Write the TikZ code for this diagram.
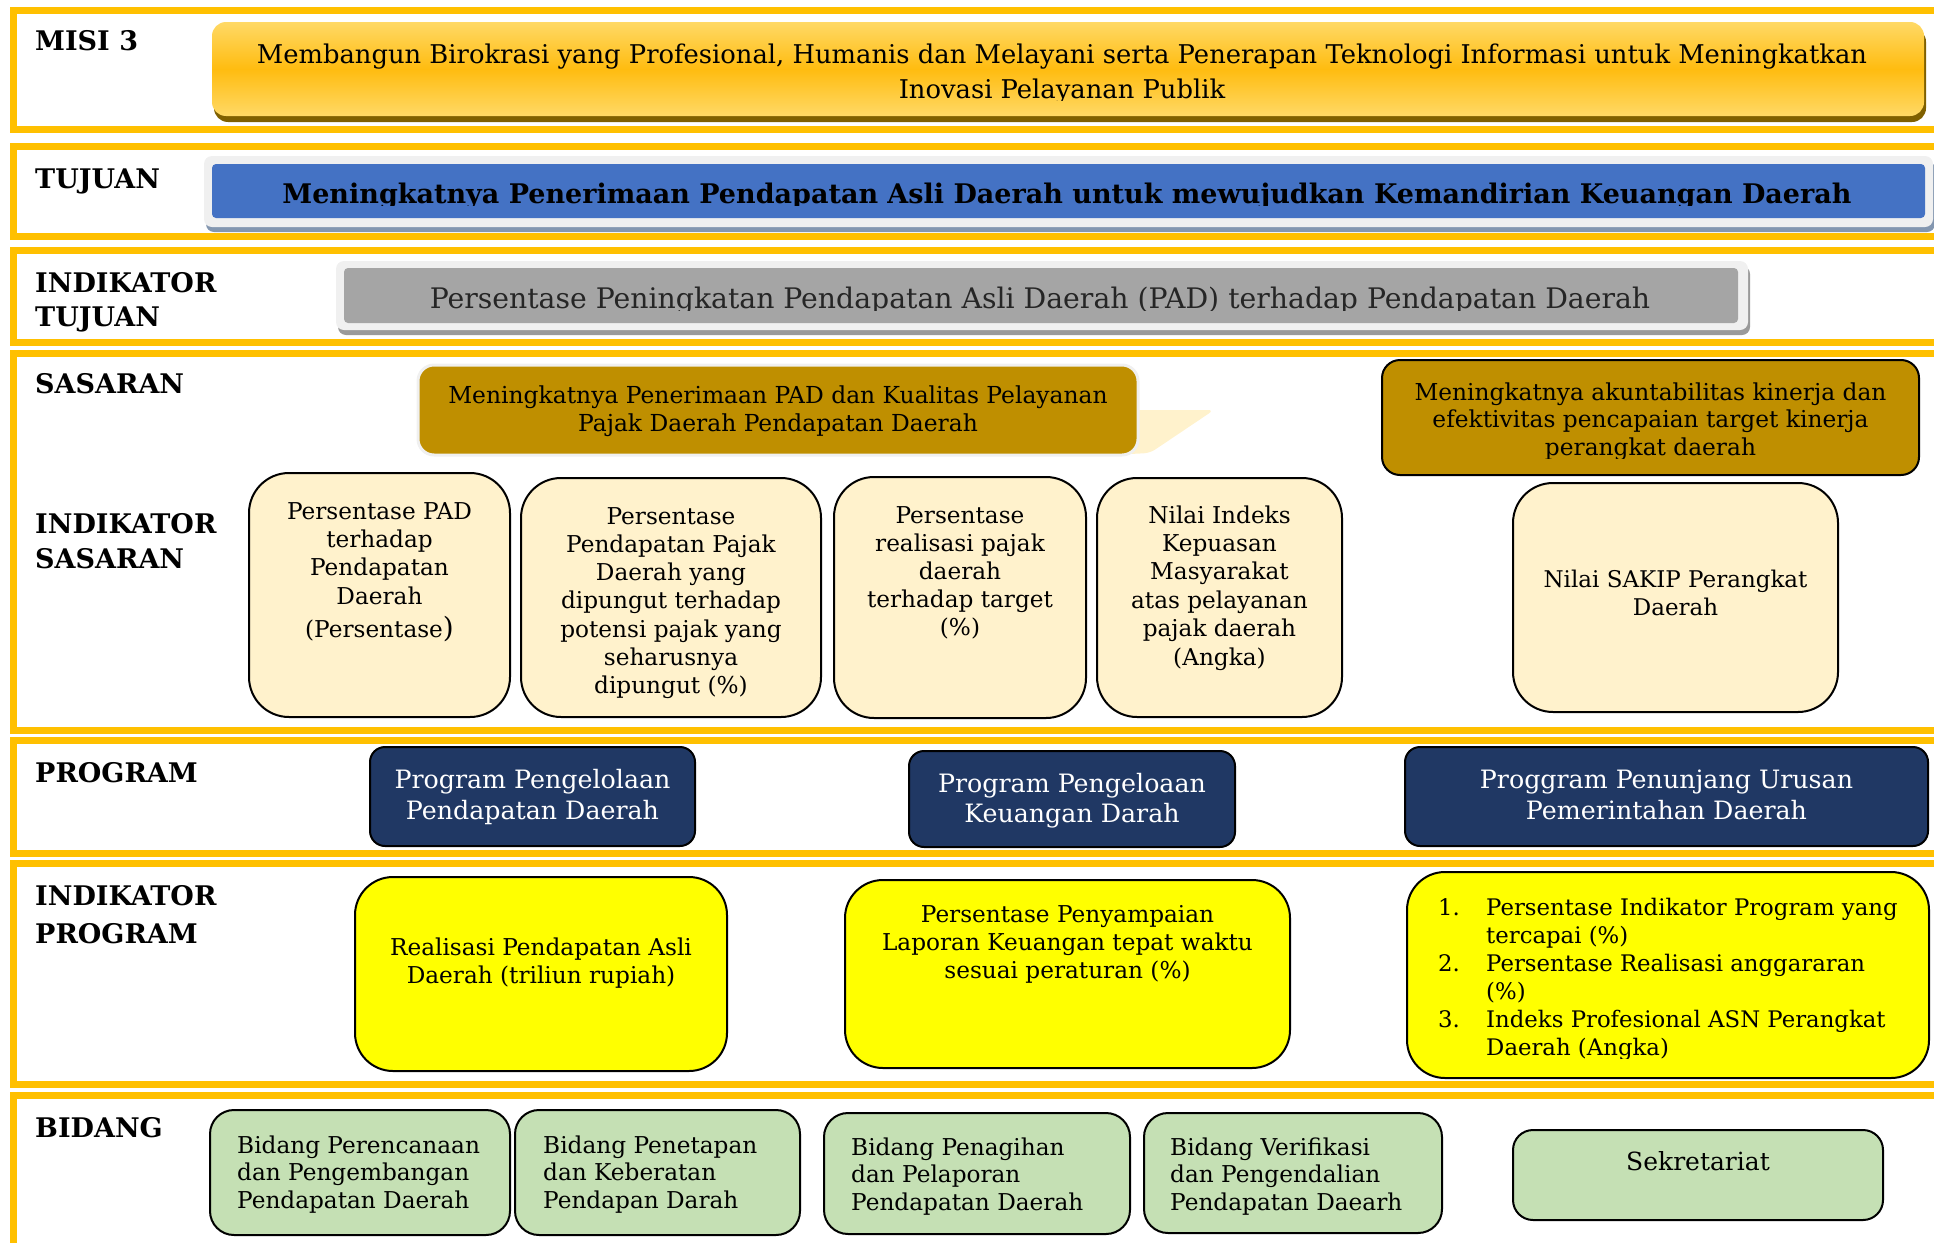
\documentclass[tikz,border=0pt]{standalone}
\usepackage{fontspec}
\setmainfont{DejaVu Serif}
\definecolor{bandc}{HTML}{FFC000}
\definecolor{misitop}{HTML}{FFD966}
\definecolor{misimid}{HTML}{FFBC10}
\definecolor{misishadow}{HTML}{7F6000}
\definecolor{tujblue}{HTML}{4472C4}
\definecolor{tujshadow}{HTML}{8497B0}
\definecolor{framec}{HTML}{F0F0F0}
\definecolor{indgray}{HTML}{A5A5A5}
\definecolor{indshadow}{HTML}{9A9A9A}
\definecolor{indtext}{HTML}{262626}
\definecolor{goldc}{HTML}{BF8F00}
\definecolor{palec}{HTML}{FFF2CC}
\definecolor{navyc}{HTML}{203864}
\definecolor{yelc}{HTML}{FFFF00}
\definecolor{greenc}{HTML}{C5E0B4}
\newcommand{\fsz}[2]{\fontsize{#1}{#2}\selectfont}
\begin{document}
\begin{tikzpicture}[x=1pt,y=-1pt,
  bandframe/.style={draw=bandc, line width=7},
  lab/.style={anchor=north west, inner sep=0, align=left, font=\bfseries\fsz{27}{34}},
  txt/.style={anchor=north, inner sep=0, align=center},
  ltxt/.style={anchor=north west, inner sep=0, align=left},
  boxbase/.style={draw=black, line width=2, inner sep=0},
  isbox/.style={boxbase, fill=palec, rounded corners=40},
  progbox/.style={boxbase, fill=navyc, rounded corners=15},
  ipbox/.style={boxbase, fill=yelc, rounded corners=38},
  bidbox/.style={boxbase, fill=greenc, rounded corners=24},
  sasbox/.style={inner sep=0, fill=goldc, rounded corners=16}]
\path[use as bounding box] (0,0) rectangle (1934,1242);
\clip (0,0) rectangle (1934,1242);

% band frames
\draw[bandframe] (13,10) rectangle (1960,129);
\draw[bandframe] (13,146) rectangle (1960,236);
\draw[bandframe] (13,250) rectangle (1960,342);
\draw[bandframe] (13,353) rectangle (1960,730);
\draw[bandframe] (13,740) rectangle (1960,853);
\draw[bandframe] (13,863) rectangle (1960,1084);
\draw[bandframe] (13,1095) rectangle (1960,1280);

% row labels
\node[lab] (lmisi) at (35,30.3) {MISI 3};
\node[lab] (ltuj) at (35,168.3) {TUJUAN};
\node[lab] (lindtuj) at (35,272.3) {INDIKATOR\\TUJUAN};
\node[lab] (lsas) at (35,373.3) {SASARAN};
\node[lab, font=\bfseries\fsz{27}{35}] (lindsas) at (35,513.3) {INDIKATOR\\SASARAN};
\node[lab] (lprog) at (35,762.3) {PROGRAM};
\node[lab, font=\bfseries\fsz{27}{38}] (lindprog) at (35,885.3) {INDIKATOR\\PROGRAM};
\node[lab] (lbid) at (35,1117.3) {BIDANG};

% MISI
\fill[misishadow, rounded corners=14] (214,28) rectangle (1926,122);
\node[inner sep=0, rounded corners=14, minimum width=1712, minimum height=94,
  top color=misitop, bottom color=misitop, middle color=misimid] (misi) at (1068,69) {};
\begin{scope}
  \clip (212,22) rectangle (1924,100);
  \node[txt, font=\fsz{25.8}{35}] (misit) at (1062,38.5) {\strut Membangun Birokrasi yang Profesional, Humanis dan Melayani serta Penerapan Teknologi Informasi untuk Meningkatkan\\Inovasi Pelayanan Publik};
\end{scope}

% TUJUAN
\fill[tujshadow, rounded corners=8] (206,161) rectangle (1935,232);
\fill[framec, rounded corners=8] (204,156) rectangle (1933,227);
\node[inner sep=0, fill=tujblue, rounded corners=4, minimum width=1713, minimum height=54] (tuj) at (1068.5,191) {};
\begin{scope}
  \clip (212,164) rectangle (1925,205.5);
  \node[anchor=base, inner sep=0, font=\bfseries\fsz{27}{30}] (tujt) at (1067,203) {Meningkatnya Penerimaan Pendapatan Asli Daerah untuk mewujudkan Kemandirian Keuangan Daerah};
\end{scope}

% INDIKATOR TUJUAN
\fill[indshadow, rounded corners=8] (338,266) rectangle (1750,335);
\fill[framec, rounded corners=8] (336,261) rectangle (1748,330);
\node[inner sep=0, fill=indgray, rounded corners=4, minimum width=1394, minimum height=55] (indtuj) at (1041,295.5) {};
\begin{scope}
  \clip (344,268) rectangle (1738,310.5);
  \node[anchor=base, inner sep=0, text=indtext, font=\fsz{28.3}{30}] (indtujt) at (1040,308) {Persentase Peningkatan Pendapatan Asli Daerah (PAD) terhadap Pendapatan Daerah};
\end{scope}

% SASARAN
\fill[palec, rounded corners=6] (1110,410) -- (1214,410) -- (1150,453) -- (1110,455) -- cycle;
\node[sasbox, draw=framec, line width=3, minimum width=720, minimum height=90] (sas1) at (778,410) {};
\node[txt, font=\fsz{23.4}{28}] (sas1t) at (778,383.4) {\strut Meningkatnya Penerimaan PAD dan Kualitas Pelayanan\\Pajak Daerah Pendapatan Daerah};
\node[sasbox, draw=black, line width=2, rounded corners=18, minimum width=537, minimum height=115] (sas2) at (1650.5,417.5) {};
\begin{scope}
  \clip (1382,360) rectangle (1919,458);
  \node[txt, font=\fsz{23.3}{27.5}] (sas2t) at (1650.5,380.75) {\strut Meningkatnya akuntabilitas kinerja dan\\efektivitas pencapaian target kinerja\\perangkat daerah};
\end{scope}

% INDIKATOR SASARAN
\node[isbox, minimum width=261, minimum height=244] (is1) at (379.5,595) {};
\node[isbox, minimum width=300, minimum height=239] (is2) at (671,597.5) {};
\node[isbox, minimum width=252, minimum height=241] (is3) at (960,597.5) {};
\node[isbox, minimum width=245, minimum height=239] (is4) at (1219.5,597.5) {};
\node[isbox, minimum width=325, minimum height=229] (is5) at (1675.5,597.5) {};
\node[txt, font=\fsz{23.2}{28.4}] (is1t) at (379.5,499.1) {\strut Persentase PAD\\terhadap\\Pendapatan\\Daerah\\[5pt](Persentase{\fsz{28}{28})}};
\node[txt, font=\fsz{23.2}{28.2}] (is2t) at (671,504.3) {\strut Persentase\\Pendapatan Pajak\\Daerah yang\\dipungut terhadap\\potensi pajak yang\\seharusnya\\dipungut (\%)};
\node[txt, font=\fsz{23.2}{28}] (is3t) at (960,503.4) {\strut Persentase\\realisasi pajak\\daerah\\terhadap target\\(\%)};
\node[txt, font=\fsz{23.2}{28.4}] (is4t) at (1219.5,503.1) {\strut Nilai Indeks\\Kepuasan\\Masyarakat\\atas pelayanan\\pajak daerah\\(Angka)};
\node[txt, font=\fsz{23}{28}] (is5t) at (1675.5,567.4) {\strut Nilai SAKIP Perangkat\\Daerah};

% PROGRAM
\node[progbox, minimum width=325, minimum height=99] (p1) at (532.5,796.5) {};
\node[progbox, minimum width=326, minimum height=96] (p2) at (1072,799) {};
\node[progbox, minimum width=523, minimum height=99] (p3) at (1666.5,796.5) {};
\node[txt, text=white, font=\fsz{25.3}{31}] (p1t) at (532.5,766.3) {\strut Program Pengelolaan\\Pendapatan Daerah};
\node[txt, text=white, font=\fsz{25.3}{30}] (p2t) at (1072,771) {\strut Program Pengeloaan\\Keuangan Darah};
\node[txt, text=white, font=\fsz{25.3}{31}] (p3t) at (1666.5,766.3) {\strut Proggram Penunjang Urusan\\Pemerintahan Daerah};

% INDIKATOR PROGRAM
\node[ipbox, minimum width=372, minimum height=194] (ip1) at (541,974) {};
\node[ipbox, minimum width=445, minimum height=188] (ip2) at (1067.5,974) {};
\node[ipbox, minimum width=522, minimum height=206] (ip3) at (1668,975) {};
\node[txt, font=\fsz{23.2}{28}] (ip1t) at (541,935.4) {\strut Realisasi Pendapatan Asli\\Daerah (triliun rupiah)};
\node[txt, font=\fsz{23.2}{28}] (ip2t) at (1067.5,902.4) {\strut Persentase Penyampaian\\Laporan Keuangan tepat waktu\\sesuai peraturan (\%)};
\begin{scope}
  \clip (1407,872) rectangle (1929,1058);
  \node[ltxt, font=\fsz{22.8}{28}] (ip3t) at (1438,895.4) {\strut\makebox[48pt][l]{1.}Persentase Indikator Program yang\\\hspace*{48pt}tercapai (\%)\\\makebox[48pt][l]{2.}Persentase Realisasi anggararan\\\hspace*{48pt}(\%)\\\makebox[48pt][l]{3.}Indeks Profesional ASN Perangkat\\\hspace*{48pt}Daerah (Angka)};
\end{scope}

% BIDANG
\node[bidbox, minimum width=300, minimum height=125] (b1) at (360,1172.5) {};
\node[bidbox, minimum width=285, minimum height=125] (b2) at (657.5,1172.5) {};
\node[bidbox, minimum width=306, minimum height=121] (b3) at (977,1173.5) {};
\node[bidbox, minimum width=298, minimum height=120] (b4) at (1293,1173) {};
\node[bidbox, rounded corners=20, minimum width=370, minimum height=90] (b5) at (1698,1175) {};
\node[ltxt, font=\fsz{23.2}{27.5}] (b1t) at (237,1133.7) {\strut Bidang Perencanaan\\dan Pengembangan\\Pendapatan Daerah};
\node[ltxt, font=\fsz{23.2}{27.5}] (b2t) at (543,1133.7) {\strut Bidang Penetapan\\dan Keberatan\\Pendapan Darah};
\node[ltxt, font=\fsz{23.2}{27.5}] (b3t) at (851,1135.7) {\strut Bidang Penagihan\\dan Pelaporan\\Pendapatan Daerah};
\node[ltxt, font=\fsz{23.2}{27.5}] (b4t) at (1170,1135.7) {\strut Bidang Verifikasi\\dan Pengendalian\\Pendapatan Daearh};
\node[anchor=base, inner sep=0, font=\fsz{25}{27.5}] (b5t) at (1698,1170) {Sekretariat};
\end{tikzpicture}
\end{document}
